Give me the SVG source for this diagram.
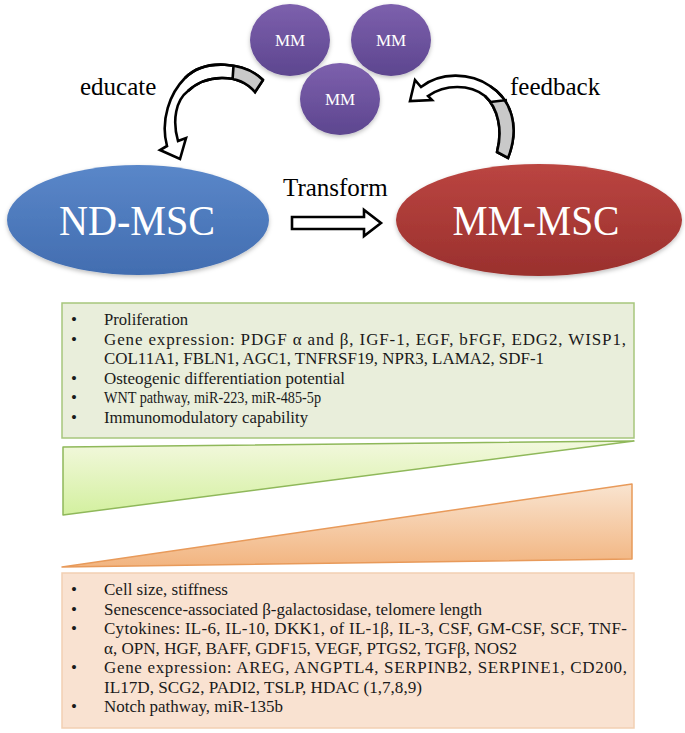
<svg xmlns="http://www.w3.org/2000/svg" width="685" height="733" viewBox="0 0 685 733">
<defs>
<style>
.serif{font-family:"Liberation Serif","Times New Roman",serif}
.lbl{font-size:25px;fill:#000}
.w{fill:#fff}
.ln{font-size:17px;fill:#1a1a1a}
.ribbon{fill:#fff;stroke:#000;stroke-width:2.6;stroke-linejoin:miter}
.ribbonfill{fill:#c9c9c9;stroke:none}
.ribbonline{fill:none;stroke:#000;stroke-width:2.6;stroke-linejoin:miter}
</style>
<linearGradient id="gMM" x1="0" y1="0" x2="0" y2="1">
<stop offset="0" stop-color="#7d60ad"/><stop offset="1" stop-color="#5d468f"/>
</linearGradient>
<linearGradient id="gND" x1="0" y1="0" x2="0" y2="1">
<stop offset="0" stop-color="#5a87c9"/><stop offset="1" stop-color="#426db0"/>
</linearGradient>
<linearGradient id="gMS" x1="0" y1="0" x2="0" y2="1">
<stop offset="0" stop-color="#bb4541"/><stop offset="1" stop-color="#9a302d"/>
</linearGradient>
<linearGradient id="gGT" x1="0" y1="0" x2="0" y2="1">
<stop offset="0" stop-color="#f3f8de"/><stop offset="1" stop-color="#d3f09f"/>
</linearGradient>
<linearGradient id="gOT" x1="0" y1="0" x2="0" y2="1">
<stop offset="0" stop-color="#f9e4d0"/><stop offset="1" stop-color="#f2b47f"/>
</linearGradient>
<filter id="sh" x="-10%" y="-10%" width="120%" height="130%">
<feDropShadow dx="0" dy="2" stdDeviation="2" flood-color="#000" flood-opacity="0.25"/>
</filter>
<clipPath id="cEd"><polygon points="233.5,50 280,50 280,105 232.6,105"/></clipPath>
<clipPath id="cFb"><polygon points="480,102 530,98 530,170 480,170"/></clipPath>
</defs>
<rect width="685" height="733" fill="#fff"/>

<g id="mm1">
<ellipse cx="290" cy="40" rx="40" ry="36" fill="url(#gMM)" filter="url(#sh)"/>
<text class="serif w" x="290" y="46" font-size="17" text-anchor="middle">MM</text>
</g>
<g id="mm2">
<ellipse cx="391" cy="40" rx="40" ry="36" fill="url(#gMM)" filter="url(#sh)"/>
<text class="serif w" x="391" y="46" font-size="17" text-anchor="middle">MM</text>
</g>
<g id="mm3">
<ellipse cx="340" cy="99" rx="40" ry="36" fill="url(#gMM)" filter="url(#sh)"/>
<text class="serif w" x="340" y="105" font-size="17" text-anchor="middle">MM</text>
</g>

<g id="nd-msc">
<ellipse cx="138" cy="220" rx="131" ry="55" fill="url(#gND)" filter="url(#sh)"/>
<text class="serif w" x="137" y="235" font-size="42" text-anchor="middle" textLength="156" lengthAdjust="spacingAndGlyphs">ND-MSC</text>
</g>
<g id="mm-msc">
<ellipse cx="539" cy="220" rx="143" ry="56" fill="url(#gMS)" filter="url(#sh)"/>
<text class="serif w" x="536" y="235" font-size="42" text-anchor="middle" textLength="167" lengthAdjust="spacingAndGlyphs">MM-MSC</text>
</g>

<g id="connectors">
<g id="educate">
<path class="ribbon" d="M 263 80 C 245 62, 205 58, 185 78 C 170 93, 160 120, 167 146 L 160 150 L 180 159 L 186 138 L 178 141 C 172 120, 176 100, 188 91 C 205 75, 238 72, 255 92 Z"/>
<path class="ribbonfill" clip-path="url(#cEd)" d="M 263 80 C 245 62, 205 58, 185 78 L 188 91 C 205 75, 238 72, 255 92 Z"/>
<path class="ribbonline" d="M 263 80 C 245 62, 205 58, 185 78 M 188 91 C 205 75, 238 72, 255 92 L 263 80 M 233.5 65.8 L 232.6 79"/>
<text class="serif lbl" x="80" y="95">educate</text>
</g>
<g id="feedback">
<path class="ribbon" d="M 497 152 L 508 158 C 520 128, 512 100, 490 86 C 470 72, 440 72, 421 87 L 415 80 L 410 101 L 432 100 L 428 96 C 445 84, 470 84, 485 96 C 498 108, 503 130, 497 152 Z"/>
<path class="ribbonfill" clip-path="url(#cFb)" d="M 497 152 L 508 158 C 520 128, 512 100, 490 86 L 485 96 C 498 108, 503 130, 497 152 Z"/>
<path class="ribbonline" d="M 497 152 L 508 158 C 520 128, 512 100, 490 86 M 485 96 C 498 108, 503 130, 497 152 M 490.3 102 L 507 100"/>
<text class="serif lbl" x="510" y="95">feedback</text>
</g>
<g id="transform">
<path class="ribbon" d="M 292 217 L 364 217 L 364 210 L 381 223 L 364 236 L 364 229 L 292 229 Z"/>
<text class="serif lbl" x="283" y="196">Transform</text>
</g>
</g>

<g id="box-nd">
<rect x="62" y="303" width="572" height="135" fill="#e9eedb" stroke="#a7c67c" stroke-width="1.5"/>
<g class="serif ln">
<text x="71" y="325">•</text><text x="104" y="325" textLength="84" lengthAdjust="spacingAndGlyphs">Proliferation</text>
<text x="71" y="344.5">•</text><text x="104" y="344.5" textLength="522" lengthAdjust="spacing">Gene expression: PDGF α and β, IGF-1, EGF, bFGF, EDG2, WISP1,</text>
<text x="104" y="364" textLength="440" lengthAdjust="spacingAndGlyphs">COL11A1, FBLN1, AGC1, TNFRSF19, NPR3, LAMA2, SDF-1</text>
<text x="71" y="383.5">•</text><text x="104" y="383.5" textLength="241" lengthAdjust="spacingAndGlyphs">Osteogenic differentiation  potential</text>
<text x="71" y="403">•</text><text x="104" y="403" textLength="217" lengthAdjust="spacingAndGlyphs">WNT pathway, miR-223, miR-485-5p</text>
<text x="71" y="422.5">•</text><text x="104" y="422.5" textLength="204" lengthAdjust="spacingAndGlyphs">Immunomodulatory  capability</text>
</g>
</g>

<g id="wedge-green">
<polygon points="63,447 634,441 63,515" fill="url(#gGT)" stroke="#8fb85a" stroke-width="1.5" stroke-linejoin="round"/>
</g>
<g id="wedge-orange">
<polygon points="62,567 632,484 632,559" fill="url(#gOT)" stroke="#e89a5a" stroke-width="1.5" stroke-linejoin="round"/>
</g>

<g id="box-mm">
<rect x="62" y="573" width="572" height="155" fill="#f9e2d1" stroke="#f2cfb2" stroke-width="1.5"/>
<g class="serif ln">
<text x="71" y="595">•</text><text x="104" y="595" textLength="124" lengthAdjust="spacingAndGlyphs">Cell size, stiffness</text>
<text x="71" y="614.5">•</text><text x="104" y="614.5" textLength="378" lengthAdjust="spacingAndGlyphs">Senescence-associated  β-galactosidase,  telomere  length</text>
<text x="71" y="634">•</text><text x="104" y="634" textLength="523" lengthAdjust="spacing">Cytokines: IL-6, IL-10, DKK1, of IL-1β, IL-3, CSF, GM-CSF, SCF,  TNF-</text>
<text x="104" y="653.5" textLength="413" lengthAdjust="spacingAndGlyphs">α, OPN, HGF, BAFF, GDF15, VEGF, PTGS2, TGFβ, NOS2</text>
<text x="71" y="673">•</text><text x="104" y="673" textLength="523" lengthAdjust="spacing">Gene expression: AREG, ANGPTL4, SERPINB2, SERPINE1, CD200,</text>
<text x="104" y="692.5" textLength="318" lengthAdjust="spacingAndGlyphs">IL17D, SCG2, PADI2, TSLP, HDAC (1,7,8,9)</text>
<text x="71" y="712">•</text><text x="104" y="712" textLength="179" lengthAdjust="spacingAndGlyphs">Notch pathway, miR-135b</text>
</g>
</g>
</svg>
